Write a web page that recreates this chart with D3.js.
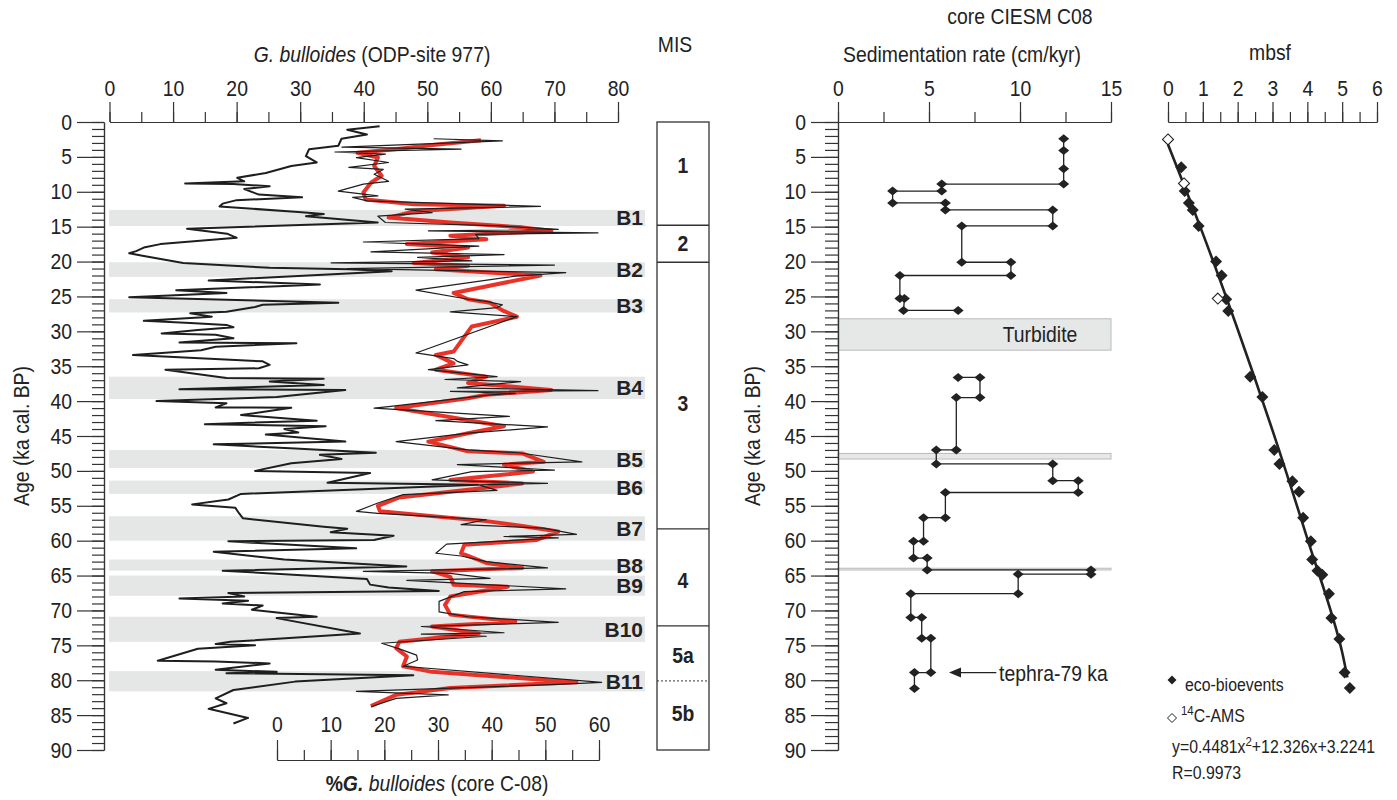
<!DOCTYPE html>
<html><head><meta charset="utf-8">
<script src="https://cdn.jsdelivr.net/npm/d3@7"></script>
<style>
body{margin:0;background:#fff;}
svg text{font-family:"Liberation Sans Narrow","Arial Narrow","Liberation Sans",Arial,sans-serif;fill:#222;}
</style></head>
<body>
<svg id="c" width="1397" height="800"></svg>
<script>
// ---------------- DATA ----------------
// ODP-site 977 G. bulloides (%), [age ka, value]
const odpAge = [0.6,1.1,1.8,2.4,3.4,3.9,4.9,5.8,6.3,7.3,8.0,8.5,8.8,8.9,9.2,9.6,10.4,10.8,11.2,11.7,12.1,12.9,13.2,13.5,14.4,15.3,16.0,16.6,17.5,18.0,18.5,18.8,19.2,20.2,20.9,21.1,21.4,22.7,23.3,24.1,24.5,25.1,25.9,26.2,26.5,27.2,27.4,27.9,28.5,28.8,29.1,29.4,29.8,30.3,30.5,31.0,31.6,31.7,32.2,32.7,33.4,34.3,34.8,35.3,35.5,36.7,36.8,37.2,37.7,38.3,38.4,39.4,40.0,40.3,40.9,40.95,42.0,42.8,43.3,43.6,44.0,44.5,44.8,45.8,46.2,46.8,47.4,47.7,48.3,48.9,50.0,50.3,51.7,52.0,53.3,54.1,54.8,55.3,56.1,56.8,58.0,58.3,58.8,59.3,59.9,60.1,61.1,61.6,62.7,63.7,64.3,65.5,66.3,66.7,67.2,67.5,68.0,68.3,68.6,69.0,69.3,69.9,70.9,71.1,73.3,74.5,74.8,75.0,75.5,77.2,77.3,77.6,78.5,78.8,79.0,79.3,80.2,81.4,82.6,83.3,84.1,85.4,86.2];
const odpVal = [42.5,37.4,40.5,36.5,36.0,31.4,30.9,32.6,28.6,24.6,20.1,21.2,11.9,19.5,25.2,21.2,23.5,30.3,20.0,17.8,17.3,29.7,33.7,30.9,42.2,12.2,18.5,20.0,8.0,5.4,4.2,3.1,5.4,11.6,25.2,37.7,44.4,15.6,33.1,10.5,18.4,3.1,36.0,24.1,22.9,18.4,12.7,16.1,5.4,12.7,18.4,19.5,13.9,8.2,16.7,19.5,11.0,29.4,16.7,14.4,3.7,24.1,25.2,23.5,8.8,18.4,33.7,25.2,33.7,11.0,37.1,26.3,7.4,18.4,16.7,28.6,20.7,32.6,15.0,34.0,27.5,29.7,24.6,37.1,16.4,29.2,41.9,33.1,36.5,28.6,22.9,41.0,34.3,58.0,20.7,18.7,13.0,19.8,20.4,21.0,33.7,37.4,34.8,44.7,41.6,18.7,38.8,16.4,27.5,46.7,17.8,40.5,41.0,43.9,51.8,18.7,21.2,11.0,21.8,17.8,24.1,22.4,32.6,26.3,39.4,19.0,16.7,22.9,13.9,7.6,16.7,25.2,16.7,26.3,18.4,47.8,29.2,19.5,16.7,18.4,15.6,21.8,19.5];

// core C-08 %G. bulloides, raw (thin black)
const c08Age = [2.4,2.7,3.6,3.9,4.3,4.6,5.1,5.8,6.5,6.8,7.5,8.5,8.9,9.9,10.6,10.8,11.3,12.1,12.5,13.0,13.5,14.4,14.9,15.4,15.6,15.9,16.1,16.7,17.2,17.8,18.6,19.0,19.4,19.9,20.2,20.5,21.0,21.6,22.1,24.1,25.4,25.7,26.2,26.6,27.2,27.9,33.1,33.9,34.3,34.8,35.5,36.5,36.9,37.2,38.1,38.5,38.6,38.9,39.1,40.8,41.0,42.2,42.8,43.7,44.6,45.8,47.0,47.4,48.7,49.1,49.9,50.1,51.3,51.8,52.0,52.8,53.4,54.6,55.8,56.1,57.0,57.7,58.2,59.1,59.4,59.6,60.5,61.8,62.2,63.0,63.9,64.4,64.7,65.4,65.7,66.9,67.3,68.7,70.2,70.9,71.7,72.3,73.2,73.4,73.7,74.7,75.5,76.4,77.1,78.0,80.3,80.6,81.6,82.1,82.6,83.8];
const c08Val = [29.2,42.0,12.1,34.3,10.8,20.2,14.8,20.8,13.4,19.8,18.1,20.8,16.1,11.4,18.8,14.1,16.8,49.1,23.9,28.9,18.8,20.2,41.6,52.4,28.2,59.8,37.0,37.6,16.1,37.6,17.5,42.3,26.2,36.3,10.1,51.7,13.1,53.8,44.4,25.9,35.6,39.0,42.0,41.0,32.3,44.7,25.9,32.9,33.6,35.6,28.2,41.0,31.3,45.4,33.6,59.8,32.3,44.4,39.7,20.8,18.1,43.3,29.6,50.4,35.6,22.2,35.6,45.0,56.8,33.6,51.7,36.3,28.9,50.4,37.6,41.0,23.5,18.8,14.8,18.8,39.0,34.3,49.7,55.8,42.3,52.4,31.6,29.6,34.3,39.0,50.4,16.1,32.3,39.7,24.2,53.8,34.9,30.2,30.2,35.6,52.4,26.9,42.3,26.9,39.0,19.5,22.8,26.0,26.2,23.5,60.5,52.4,14.8,31.9,22.2,17.5];

// core C-08 smoothed curve (red)
const redAge = [2.6,3.3,3.9,4.4,5.1,6.3,7.7,8.7,10.1,11.1,11.8,12.0,12.8,13.7,14.4,15.1,15.6,16.3,16.8,17.5,18.0,18.7,19.4,20.2,20.6,21.1,22.0,24.5,25.4,25.9,27.0,27.9,29.3,32.9,33.4,34.6,35.5,36.5,37.4,38.4,39.1,39.6,41.0,43.6,44.6,45.8,47.2,47.5,48.7,49.1,50.1,51.3,51.8,52.7,53.8,55.0,55.8,57.2,57.9,58.7,59.9,60.6,61.8,63.2,63.9,64.4,65.2,66.3,66.6,68.0,69.2,70.6,71.6,72.3,73.3,74.5,75.4,76.6,78.0,78.8,80.3,81.1,82.1,83.7];
const redVal = [38.0,29.0,22.0,15.0,18.8,18.1,19.5,17.5,16.1,16.5,25.5,42.3,25.5,20.8,32.3,45.7,51.1,32.3,39.0,24.2,35.6,28.9,35.6,25.5,35.6,29.6,49.1,32.9,35.6,39.7,42.0,44.7,36.3,32.9,29.6,32.9,29.6,39.0,35.6,51.1,39.0,35.6,22.2,42.3,35.6,28.2,35.6,45.7,49.7,42.3,47.7,32.3,45.7,35.6,22.8,18.8,19.2,39.0,45.7,52.4,48.4,34.9,34.3,39.0,45.7,28.9,32.3,32.9,43.0,32.3,31.3,32.3,44.4,28.9,37.6,22.8,22.2,24.2,23.5,28.9,55.8,32.3,22.2,17.5];

// Event bands B1-B11 (ka)
const bandNames = ["B1","B2","B3","B4","B5","B6","B7","B8","B9","B10","B11"];
const bandTop = [12.6,20.1,25.4,36.5,47.0,51.4,56.5,62.7,65.0,70.9,78.7];
const bandBot = [14.9,22.2,27.3,39.7,49.6,53.3,60.0,64.3,67.9,74.5,81.6];

// MIS stages
const misNames = ["1","2","3","4","5a","5b"];
const misTop = [0,14.8,20.1,58.3,72.2,80.1];
const misBot = [14.8,20.1,58.3,72.2,80.1,90];
const misLabelAge = [6.2,17.4,40.2,65.7,76.4,84.7];

// Sedimentation rate (cm/kyr) vs age (ka); null = gap (turbidite)
const sedAge  = [2.4,4.1,6.7,8.9,8.9,9.9,9.9,11.6,11.6,12.6,12.6,14.9,14.9,20.1,20.1,22.0,22.0,25.3,25.3,27.0,27.0,null,36.6,36.6,39.5,39.5,47.0,47.0,49.0,49.0,51.4,51.4,53.1,53.1,56.7,56.7,60.1,60.1,62.5,62.5,64.2,64.2,64.8,64.8,67.6,67.6,71.0,71.0,74.0,74.0,78.9,78.9,81.2];
const sedRate = [12.4,12.4,12.4,12.4,5.7,5.7,3.0,3.0,5.9,5.9,11.8,11.8,6.8,6.8,9.5,9.5,3.4,3.4,3.65,3.6,6.6,null,6.6,7.8,7.8,6.5,6.5,5.4,5.4,11.8,11.8,13.2,13.2,5.9,5.9,4.7,4.7,4.15,4.15,4.9,4.9,13.9,13.9,9.9,9.9,4.0,4.0,4.6,4.6,5.1,5.1,4.2,4.2];
const turbidite = [28.2,32.7];
const thinBands = [[47.5,48.3],[63.95,64.2]];
const tephraAge = 78.9;

// mbsf age-depth
const ecoDepth = [0.38,0.48,0.60,0.71,0.88,1.38,1.54,1.67,1.73,2.36,2.71,3.05,3.20,3.57,3.76,3.88,4.10,4.14,4.29,4.43,4.62,4.69,4.92,5.07,5.22];
const ecoAge   = [6.5,9.9,11.6,12.6,14.9,20.0,22.0,25.4,27.1,36.5,39.4,47.0,49.0,51.5,53.0,56.7,60.1,62.7,64.3,64.9,67.6,71.1,74.1,78.9,81.1];
const amsDepth = [0.0,0.46,1.43];
const amsAge   = [2.5,8.8,25.3];
// regression curve y=0.4481x^2+12.326x+3.2241 (points read along the drawn fit)
const fitDepth = [0,1,2,3,4,5,5.15];
const fitAge   = [3.22,16.0,29.7,44.2,59.7,76.0,79.6];

// ---------------- DRAW ----------------
const svg = d3.select("#c");
const y = d3.scaleLinear().domain([0,90]).range([122,750]);
const xODP = d3.scaleLinear().domain([0,80]).range([109.5,618]);
const xC08 = d3.scaleLinear().domain([0,60]).range([277,599]);
const xSed = d3.scaleLinear().domain([0,15]).range([838,1111]);
const xM = d3.scaleLinear().domain([0,6]).range([1168,1377]);
const FS = 22;
const K = 0.88;   // horizontal condensing of glyphs (narrow typeface look)

function styleAxis(g){
  g.selectAll("path,line").attr("stroke","#333").attr("stroke-width",1.2);
  g.selectAll("text").attr("font-size",FS).attr("fill","#222")
   .style("font-family",'"Liberation Sans Narrow","Arial Narrow","Liberation Sans",Arial,sans-serif');
}
const rng = (a,b,s)=>d3.range(a,b+1e-9,s);
// rich text (with tspans): condensed through a transform, flagged so it is not re-condensed
function richText(x,yy,size,anchor){
  return svg.append("text").attr("class","rich").attr("x",0).attr("y",0)
    .attr("transform",`translate(${x},${yy}) scale(${K},1)`)
    .attr("text-anchor",anchor).attr("font-size",size);
}

// bands
const bandIdx = d3.range(bandNames.length);
svg.append("g").selectAll("rect").data(bandIdx).join("rect")
  .attr("x",109).attr("width",536)
  .attr("y",i=>y(bandTop[i])).attr("height",i=>y(bandBot[i])-y(bandTop[i]))
  .attr("fill","#e5e6e6");

// left panel axes
let g = svg.append("g").attr("transform","translate(104,0)")
  .call(d3.axisLeft(y).tickValues(rng(0,90,1)).tickSize(12).tickSizeOuter(0).tickFormat(""));
styleAxis(g);
g = svg.append("g").attr("transform","translate(104,0)")
  .call(d3.axisLeft(y).tickValues(rng(0,90,5)).tickSize(27).tickSizeOuter(0).tickPadding(5));
styleAxis(g);
g = svg.append("g").attr("transform","translate(0,122)")
  .call(d3.axisTop(xODP).tickValues(rng(0,80,5)).tickSize(10).tickSizeOuter(0).tickFormat(""));
styleAxis(g);
g = svg.append("g").attr("transform","translate(0,122)")
  .call(d3.axisTop(xODP).tickValues(rng(0,80,10)).tickSize(20).tickSizeOuter(0).tickPadding(6));
styleAxis(g);
g = svg.append("g").attr("transform","translate(0,760)")
  .call(d3.axisTop(xC08).tickValues(rng(0,60,5)).tickSize(10).tickSizeOuter(0).tickFormat(""));
styleAxis(g);
g = svg.append("g").attr("transform","translate(0,760)")
  .call(d3.axisTop(xC08).tickValues(rng(0,60,10)).tickSize(20).tickSizeOuter(0).tickPadding(8));
styleAxis(g);

// titles left
let t = richText(372,62,FS,"middle");
t.append("tspan").attr("font-style","italic").text("G. bulloides");
t.append("tspan").text(" (ODP-site 977)");
t = richText(437,791,FS,"middle");
t.append("tspan").attr("font-weight","bold").text("%");
t.append("tspan").attr("font-weight","bold").attr("font-style","italic").text("G.");
t.append("tspan").attr("font-style","italic").text(" bulloides");
t.append("tspan").text(" (core C-08)");
svg.append("text").attr("transform","translate(29,436) rotate(-90)").attr("text-anchor","middle")
  .attr("font-size",FS).text("Age (ka cal. BP)");

// curves
const lineO = d3.line().x((d,i)=>xODP(odpVal[i])).y((d,i)=>y(odpAge[i]));
svg.append("path").attr("d",lineO(odpAge)).attr("fill","none").attr("stroke","#1e1e1e").attr("stroke-width",2).attr("stroke-linejoin","round");
const lineR = d3.line().x((d,i)=>xC08(redVal[i])).y((d,i)=>y(redAge[i]));
svg.append("path").attr("d",lineR(redAge)).attr("fill","none").attr("stroke","#e8281e").attr("stroke-width",4).attr("stroke-linejoin","round").attr("opacity",0.95);
const lineC = d3.line().x((d,i)=>xC08(c08Val[i])).y((d,i)=>y(c08Age[i]));
svg.append("path").attr("d",lineC(c08Age)).attr("fill","none").attr("stroke","#1e1e1e").attr("stroke-width",1.2).attr("stroke-linejoin","round");

// band labels
svg.append("g").selectAll("text").data(bandIdx).join("text").attr("class","rich")
  .attr("x",643).attr("y",i=>(y(bandTop[i])+y(bandBot[i]))/2+7.5)
  .attr("text-anchor","end").attr("font-weight","bold").attr("font-size",21).attr("fill","#222")
  .text(i=>bandNames[i]);

// MIS column
svg.append("text").attr("x",675).attr("y",52).attr("text-anchor","middle").attr("font-size",FS).text("MIS");
const misIdx = d3.range(misNames.length);
svg.append("rect").attr("x",657).attr("y",y(0)).attr("width",52).attr("height",y(90)-y(0))
  .attr("fill","none").attr("stroke","#333").attr("stroke-width",1.3);
svg.append("g").selectAll("line").data(misIdx.slice(1)).join("line")
  .attr("x1",657).attr("x2",709).attr("y1",i=>y(misTop[i])).attr("y2",i=>y(misTop[i]))
  .attr("stroke","#333").attr("stroke-width",i=>misNames[i]==="5b"?1:1.3)
  .attr("stroke-dasharray",i=>misNames[i]==="5b"?"2,2":null);
svg.append("g").selectAll("text").data(misIdx).join("text")
  .attr("x",683).attr("y",i=>y(misLabelAge[i])+8).attr("text-anchor","middle")
  .attr("font-weight","bold").attr("font-size",22).text(i=>misNames[i]);

// ---- Sedimentation rate panel ----
svg.append("text").attr("x",1020).attr("y",24).attr("text-anchor","middle").attr("font-size",FS).text("core CIESM C08");
svg.append("text").attr("x",962).attr("y",62).attr("text-anchor","middle").attr("font-size",FS).text("Sedimentation rate (cm/kyr)");
svg.append("text").attr("transform","translate(760,436) rotate(-90)").attr("text-anchor","middle")
  .attr("font-size",FS).text("Age (ka cal. BP)");

svg.append("rect").attr("x",xSed(0)).attr("width",xSed(15)-xSed(0)).attr("y",y(turbidite[0])).attr("height",y(turbidite[1])-y(turbidite[0]))
  .attr("fill","#e6e7e7").attr("stroke","#bbb").attr("stroke-width",1);
svg.append("text").attr("x",xSed(11.1)).attr("y",(y(turbidite[0])+y(turbidite[1]))/2+8).attr("text-anchor","middle").attr("font-size",FS).text("Turbidite");
svg.append("g").selectAll("rect").data(thinBands).join("rect")
  .attr("x",xSed(0)).attr("width",xSed(15)-xSed(0)).attr("y",d=>y(d[0])).attr("height",d=>y(d[1])-y(d[0]))
  .attr("fill","#e6e7e7").attr("stroke","#bbb").attr("stroke-width",1);

g = svg.append("g").attr("transform","translate(838,0)")
  .call(d3.axisLeft(y).tickValues(rng(0,90,1)).tickSize(13).tickSizeOuter(0).tickFormat(""));
styleAxis(g);
g = svg.append("g").attr("transform","translate(838,0)")
  .call(d3.axisLeft(y).tickValues(rng(0,90,5)).tickSize(27).tickSizeOuter(0).tickPadding(5));
styleAxis(g);
g = svg.append("g").attr("transform","translate(0,122)")
  .call(d3.axisTop(xSed).tickValues(rng(0,15,2.5)).tickSize(10).tickSizeOuter(0).tickFormat(""));
styleAxis(g);
g = svg.append("g").attr("transform","translate(0,122)")
  .call(d3.axisTop(xSed).tickValues(rng(0,15,5)).tickSize(20).tickSizeOuter(0).tickPadding(6));
styleAxis(g);

const sedIdx = d3.range(sedAge.length);
const lineS = d3.line().defined(i=>sedAge[i]!==null).x(i=>xSed(sedRate[i])).y(i=>y(sedAge[i]));
svg.append("path").attr("d",lineS(sedIdx)).attr("fill","none").attr("stroke","#222").attr("stroke-width",1.3);
const dia = (w,h)=>`M0,${-h}L${w},0L0,${h}L${-w},0Z`;
svg.append("g").selectAll("path").data(sedIdx.filter(i=>sedAge[i]!==null)).join("path")
  .attr("transform",i=>`translate(${xSed(sedRate[i])},${y(sedAge[i])})`)
  .attr("d",dia(5.5,4.5)).attr("fill","#222");

// tephra arrow
const ty = y(tephraAge);
svg.append("line").attr("x1",xSed(6.5)).attr("x2",xSed(8.7)).attr("y1",ty).attr("y2",ty).attr("stroke","#222").attr("stroke-width",1.2);
svg.append("path").attr("d",`M${xSed(6.1)},${ty}L${xSed(6.1)+12},${ty-5}L${xSed(6.1)+12},${ty+5}Z`).attr("fill","#222");
svg.append("text").attr("x",xSed(8.85)).attr("y",ty+8).attr("font-size",FS).text("tephra-79 ka");

// ---- mbsf panel ----
svg.append("text").attr("x",1270).attr("y",60).attr("text-anchor","middle").attr("font-size",FS).text("mbsf");
g = svg.append("g").attr("transform","translate(0,122)")
  .call(d3.axisTop(xM).tickValues(rng(0,6,0.5)).tickSize(10).tickSizeOuter(0).tickFormat(""));
styleAxis(g);
g = svg.append("g").attr("transform","translate(0,122)")
  .call(d3.axisTop(xM).tickValues(rng(0,6,1)).tickSize(20).tickSizeOuter(0).tickPadding(6).tickFormat(d3.format("d")));
styleAxis(g);

const fitIdx = d3.range(fitDepth.length);
svg.append("path").attr("d",d3.line().curve(d3.curveMonotoneY).x(i=>xM(fitDepth[i])).y(i=>y(fitAge[i]))(fitIdx))
  .attr("fill","none").attr("stroke","#222").attr("stroke-width",2.6);
svg.append("g").selectAll("path").data(d3.range(ecoDepth.length)).join("path")
  .attr("transform",i=>`translate(${xM(ecoDepth[i])},${y(ecoAge[i])})`)
  .attr("d",dia(6,6)).attr("fill","#222");
svg.append("g").selectAll("path").data(d3.range(amsDepth.length)).join("path")
  .attr("transform",i=>`translate(${xM(amsDepth[i])},${y(amsAge[i])})`)
  .attr("d",dia(5.5,5.5)).attr("fill","#fff").attr("stroke","#222").attr("stroke-width",1.1);

// legend
svg.append("path").attr("transform","translate(1172,680)").attr("d",dia(4.5,4.5)).attr("fill","#222");
svg.append("text").attr("x",1185).attr("y",691).attr("font-size",18).text("eco-bioevents");
svg.append("path").attr("transform","translate(1172,718)").attr("d",dia(4.5,4.5)).attr("fill","#fff").attr("stroke","#222").attr("stroke-width",1);
t = richText(1181,722,18,"start");
t.append("tspan").attr("font-size",13).attr("dy",-7).text("14");
t.append("tspan").attr("dy",7).text("C-AMS");
t = richText(1172,753,18,"start");
t.append("tspan").text("y=0.4481x");
t.append("tspan").attr("font-size",13).attr("dy",-7).text("2");
t.append("tspan").attr("dy",7).text("+12.326x+3.2241");
svg.append("text").attr("x",1172).attr("y",779).attr("font-size",18).text("R=0.9973");

// condense plain texts horizontally to mimic the narrow typeface of the original
svg.selectAll("text:not(.rich)").each(function(){
  const L=this.getComputedTextLength();
  if(L>0){this.setAttribute("textLength",L*K);this.setAttribute("lengthAdjust","spacingAndGlyphs");}
});
</script>
</body></html>
